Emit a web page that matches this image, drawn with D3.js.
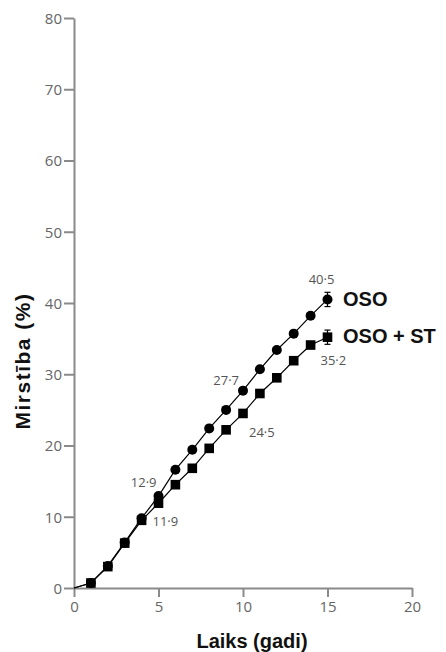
<!DOCTYPE html>
<html>
<head>
<meta charset="utf-8">
<script src="https://cdn.jsdelivr.net/npm/d3@7"></script>
<style>
  html, body { margin: 0; padding: 0; background: #fff; }
  svg { display: block; }
</style>
</head>
<body>
<script>
// ---- data ----
const years = [0, 1, 2, 3, 4, 5, 6, 7, 8, 9, 10, 11, 12, 13, 14, 15];
const oso   = [0, 0.7, 3.1, 6.4, 9.8, 12.9, 16.6, 19.4, 22.4, 25.0, 27.7, 30.7, 33.4, 35.7, 38.2, 40.5];
const osoSt = [0, 0.7, 3.0, 6.3, 9.5, 11.9, 14.5, 16.8, 19.6, 22.2, 24.5, 27.3, 29.5, 31.9, 34.1, 35.2];
const errorYear = 15;
const osoErr = 1.0;
const osoStErr = 1.0;
const seriesNames = ["OSO", "OSO + ST"];
const xTicks = [0, 5, 10, 15, 20];
const yTicks = [0, 10, 20, 30, 40, 50, 60, 70, 80];
const labelYears = [5, 10, 15];
const xTitle = "Laiks (gadi)";
const yTitle = "Mirstība (%)";

const fmt = v => d3.format(".1f")(v).replace(".", "·");

const W = 446, H = 652;
const svg = d3.select("body").append("svg").attr("width", W).attr("height", H);

const x = d3.scaleLinear().domain([0, 20]).range([74, 412]);
const y = d3.scaleLinear().domain([0, 80]).range([588, 18]);

const axisColor = "#8a8a8a";
const tickColor = "#666";
const tickFont = "'Open Sans', 'DejaVu Sans', sans-serif";
const boldFont = "'Liberation Sans', Arial, sans-serif";

// x axis
const gx = svg.append("g").attr("transform", `translate(0,${y(0)})`)
  .call(d3.axisBottom(x).tickValues(xTicks).tickSize(9).tickPadding(4).tickSizeOuter(0));
// y axis
const gy = svg.append("g").attr("transform", `translate(${x(0)},0)`)
  .call(d3.axisLeft(y).tickValues(yTicks).tickSize(10).tickPadding(2).tickSizeOuter(0));

[gx, gy].forEach(g => {
  g.select(".domain").attr("stroke", axisColor).attr("stroke-width", 2);
  g.selectAll(".tick line").attr("stroke", axisColor).attr("stroke-width", 2);
  g.selectAll(".tick text").attr("fill", tickColor)
    .style("font-family", tickFont).style("font-size", "15px");
});
gy.selectAll(".tick text").attr("dy", "0.36em");

// lines
const line = d3.line().x((d, i) => x(years[i])).y(d => y(d));
[oso, osoSt].forEach(s => {
  svg.append("path").datum(s).attr("d", line)
    .attr("fill", "none").attr("stroke", "#000").attr("stroke-width", 1.2);
});

// error bars
[[oso, osoErr], [osoSt, osoStErr]].forEach(([s, e]) => {
  const i = years.indexOf(errorYear);
  const cx = x(years[i]), v = s[i];
  const g = svg.append("g").attr("stroke", "#000").attr("stroke-width", 1.2);
  g.append("line").attr("x1", cx).attr("x2", cx).attr("y1", y(v + e)).attr("y2", y(v - e));
  [v + e, v - e].forEach(t => g.append("line")
    .attr("x1", cx - 3).attr("x2", cx + 3).attr("y1", y(t)).attr("y2", y(t)));
});

// markers (squares under circles)
const ptsIdx = years.map((d, i) => i).filter(i => years[i] > 0);
svg.append("g").selectAll("rect").data(ptsIdx).join("rect")
  .attr("x", i => x(years[i]) - 4.8).attr("y", i => y(osoSt[i]) - 4.8)
  .attr("width", 9.6).attr("height", 9.6).attr("fill", "#000");
svg.append("g").selectAll("circle").data(ptsIdx).join("circle")
  .attr("cx", i => x(years[i])).attr("cy", i => y(oso[i])).attr("r", 5).attr("fill", "#000");

// value labels
const valFont = { family: tickFont, size: "13px", color: "#555" };
function valLabel(xx, yy, txt, anchor) {
  svg.append("text").attr("x", xx).attr("y", yy).attr("text-anchor", anchor)
    .attr("fill", valFont.color).style("font-family", valFont.family)
    .style("font-size", valFont.size).text(txt);
}
const iy = yr => years.indexOf(yr);
// OSO labels
valLabel(x(labelYears[0]) - 2, y(oso[iy(labelYears[0])]) - 9, fmt(oso[iy(labelYears[0])]), "end");
valLabel(x(labelYears[1]) - 4, y(oso[iy(labelYears[1])]) - 6, fmt(oso[iy(labelYears[1])]), "end");
valLabel(x(labelYears[2]) - 6, y(oso[iy(labelYears[2])]) - 15, fmt(oso[iy(labelYears[2])]), "middle");
// OSO + ST labels
valLabel(x(labelYears[0]) - 6, y(osoSt[iy(labelYears[0])]) + 23, fmt(osoSt[iy(labelYears[0])]), "start");
valLabel(x(labelYears[1]) + 6, y(osoSt[iy(labelYears[1])]) + 24, fmt(osoSt[iy(labelYears[1])]), "start");
valLabel(x(labelYears[2]) - 7, y(osoSt[iy(labelYears[2])]) + 28, fmt(osoSt[iy(labelYears[2])]), "start");

// series names
const last = years.length - 1;
[[oso, seriesNames[0], 7], [osoSt, seriesNames[1], 6]].forEach(([s, n, dy]) => {
  svg.append("text").attr("x", x(years[last]) + 15.5).attr("y", y(s[last]) + dy)
    .attr("fill", "#111").style("font-family", boldFont).style("font-weight", "bold")
    .style("font-size", "20px").text(n);
});

// axis titles
svg.append("text").attr("x", 252).attr("y", 648).attr("text-anchor", "middle")
  .attr("fill", "#111").style("font-family", boldFont).style("font-weight", "bold")
  .style("font-size", "20px").text(xTitle);
svg.append("text").attr("transform", "translate(30,361) rotate(-90)").attr("text-anchor", "middle")
  .attr("fill", "#111").style("font-family", boldFont).style("font-weight", "bold")
  .style("font-size", "21px").style("letter-spacing", "1.5px").text(yTitle);
</script>
</body>
</html>
